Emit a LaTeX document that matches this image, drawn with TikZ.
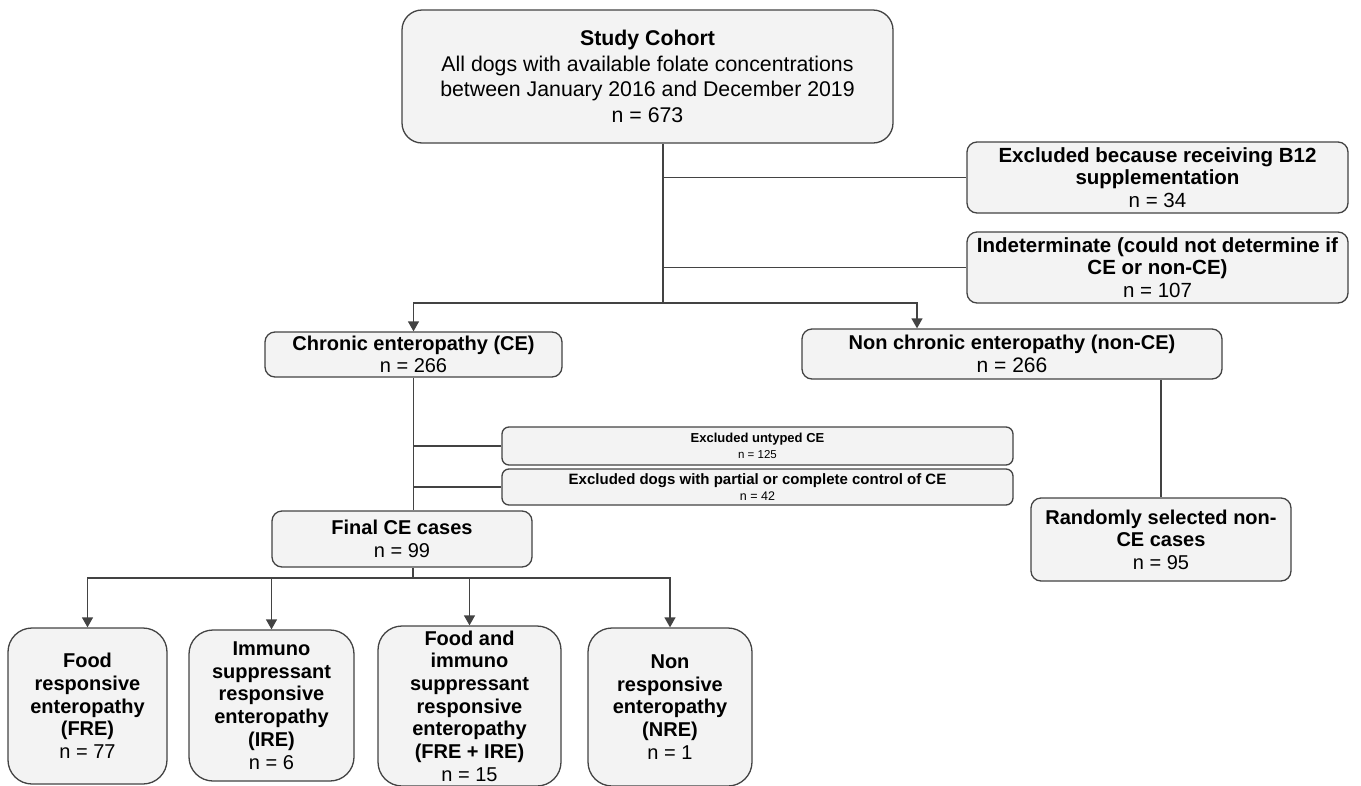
\documentclass[tikz,border=0pt]{standalone}
\usepackage{fontspec}
\setmainfont{Liberation Sans}
\usetikzlibrary{arrows.meta}
\definecolor{boxfill}{HTML}{F3F3F3}
\definecolor{boxline}{HTML}{434343}

\begin{document}
\begin{tikzpicture}[x=1pt, y=-1pt,
	box/.style={draw=boxline, fill=boxfill, line width=1.3pt, rounded corners=10pt, align=center, inner sep=0pt, font=\fontsize{20}{22.5}\selectfont},
	tallbox/.style={box, rounded corners=24pt, font=\fontsize{20}{22.7}\selectfont},
	link/.style={draw=boxline, line width=1.3pt},
	>={Triangle[length=10pt, width=11pt]}]
	\useasboundingbox (0,0) rectangle (1361,785);

	\node[box, rounded corners=20pt, minimum width=491pt, minimum height=133pt, font=\fontsize{21.3}{25.5}\selectfont] at (647.5,76.5) (COH)
		{\textbf{Study Cohort}\\All dogs with available folate concentrations\\between January 2016 and December 2019\\n = 673};
	\node[box, minimum width=381pt, minimum height=71pt, font=\fontsize{20.5}{22.5}\selectfont] at (1157.5,177.5) (B12)
		{\textbf{Excluded because receiving B12}\\\textbf{supplementation}\\n = 34};
	\node[box, minimum width=381pt, minimum height=71pt, font=\fontsize{20.5}{22.5}\selectfont] at (1157.5,267.5) (IND)
		{\textbf{Indeterminate (could not determine if}\\\textbf{CE or non-CE)}\\n = 107};
	\node[box, minimum width=297pt, minimum height=45pt] at (413.5,354.5) (CE)
		{\textbf{Chronic enteropathy (CE)}\\n = 266};
	\node[box, minimum width=420pt, minimum height=50pt] at (1012,354) (NCE)
		{\textbf{Non chronic enteropathy (non-CE)}\\{\fontsize{21}{24}\selectfont n = 266}};
	\node[box, rounded corners=7pt, minimum width=511pt, minimum height=38pt, font=\fontsize{13}{16}\selectfont] at (757.5,446) (UNT)
		{\textbf{Excluded untyped CE}\\{\fontsize{11.5}{13}\selectfont n = 125}};
	\node[box, rounded corners=7pt, minimum width=511pt, minimum height=36pt, font=\fontsize{15}{16.5}\selectfont] at (757.5,487) (PART)
		{\textbf{Excluded dogs with partial or complete control of CE}\\{\fontsize{12.5}{14}\selectfont n = 42}};
	\node[box, minimum width=260pt, minimum height=56pt] at (402,539) (FIN)
		{\textbf{Final CE cases}\\n = 99};
	\node[box, minimum width=260pt, minimum height=83pt] at (1161,539.5) (RAND)
		{\textbf{Randomly selected non-}\\\textbf{CE cases}\\n = 95};

	\node[tallbox, minimum width=159pt, minimum height=156pt] at (87.5,706) (FRE)
		{\textbf{Food}\\\textbf{responsive}\\\textbf{enteropathy}\\\textbf{(FRE)}\\n = 77};
	\node[tallbox, minimum width=165pt, minimum height=151pt] at (271.5,705.5) (IRE)
		{\textbf{Immuno}\\\textbf{suppressant}\\\textbf{responsive}\\\textbf{enteropathy}\\\textbf{(IRE)}\\n = 6};
	\node[tallbox, minimum width=183pt, minimum height=160pt] at (469.5,706) (FRI)
		{\textbf{Food and}\\\textbf{immuno}\\\textbf{suppressant}\\\textbf{responsive}\\\textbf{enteropathy}\\\textbf{(FRE + IRE)}\\n = 15};
	\node[tallbox, minimum width=164pt, minimum height=158pt] at (670,707) (NRE)
		{\textbf{Non}\\\textbf{responsive}\\\textbf{enteropathy}\\\textbf{(NRE)}\\n = 1};

	\coordinate (J1) at (663,303);
	\coordinate (J2) at (413,578);

	\draw[link] (COH.south -| J1) -- (J1);
	\draw[link] (J1 |- B12.west) -- (B12.west);
	\draw[link] (J1 |- IND.west) -- (IND.west);
	\draw[link,->] (J1) -| (CE.north);
	\draw[link,->] (J1) -| ([xshift=-95pt]NCE.north);

	\draw[link] (CE.south) -- (CE.south |- FIN.north);
	\draw[link] (CE.south |- UNT.west) -- (UNT.west);
	\draw[link] (CE.south |- PART.west) -- (PART.west);
	\draw[link] (RAND.north |- NCE.south) -- (RAND.north);

	\draw[link] (FIN.south -| J2) -- (J2);
	\draw[link,->] (J2) -| (FRE.north);
	\draw[link,->] (J2) -| (IRE.north);
	\draw[link,->] (J2) -| (FRI.north);
	\draw[link,->] (J2) -| (NRE.north);
\end{tikzpicture}
\end{document}
